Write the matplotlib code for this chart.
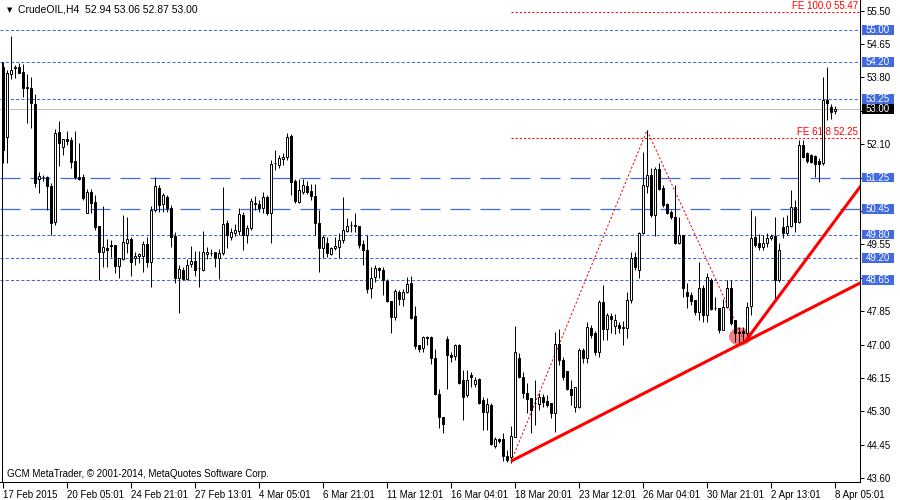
import matplotlib
matplotlib.use("Agg")
import matplotlib.pyplot as plt
from matplotlib.patches import Rectangle, Ellipse
from matplotlib.transforms import blended_transform_factory
import numpy as np

plt.rcParams['font.family'] = ['Liberation Sans', 'DejaVu Sans']

# ---------------- data (CrudeOIL, H4) ----------------
opens = [
    54.06, 52.28, 53.88, 54.06, 54.06, 53.93, 53.55, 53.53, 53.12, 51.21,
    51.26, 51.26, 51.03, 50.12, 52.41, 52.03, 52.23, 52.21, 51.67, 51.26,
    51.26, 50.35, 50.88, 50.63, 50.02, 49.36, 49.46, 49.53, 49.53, 49.00,
    49.18, 49.58, 49.69, 49.20, 49.25, 49.25, 49.56, 49.10, 50.42, 50.98,
    50.58, 50.75, 50.47, 49.76, 48.69, 48.90, 48.67, 49.05, 49.13, 48.95,
    48.90, 49.30, 49.33, 49.36, 49.20, 49.33, 50.09, 49.74, 49.84, 49.89,
    50.30, 49.79, 49.97, 50.58, 50.58, 50.47, 50.75, 50.35, 51.62, 51.57,
    51.72, 51.77, 52.31, 51.16, 50.63, 50.88, 51.03, 50.91, 50.78, 50.09,
    49.46, 49.58, 49.30, 49.46, 49.48, 49.66, 49.89, 50.04, 50.02, 50.02,
    49.56, 49.41, 48.44, 48.72, 48.95, 48.90, 48.62, 48.11, 47.70, 48.34,
    48.16, 48.34, 48.57, 47.73, 46.99, 46.91, 47.19, 47.19, 46.66, 45.74,
    45.16, 47.14, 46.73, 46.71, 46.99, 46.10, 45.72, 46.23, 46.00, 46.12,
    45.59, 45.28, 45.46, 44.42, 44.60, 44.60, 44.16, 44.14, 44.65, 46.66,
    46.17, 45.77, 45.64, 45.51, 45.49, 45.67, 45.56, 45.51, 45.26, 47.01,
    46.61, 46.33, 45.87, 45.41, 45.41, 46.86, 46.66, 47.42, 47.29, 46.81,
    48.08, 47.40, 47.73, 47.47, 47.50, 47.45, 47.42, 48.13, 49.23, 48.90,
    49.84, 51.03, 51.31, 50.30, 51.47, 50.98, 50.58, 50.37, 50.25, 49.58,
    49.79, 48.34, 48.26, 48.13, 47.83, 48.44, 47.75, 48.64, 47.93, 47.93,
    47.37, 47.95, 48.44, 47.63, 47.32, 47.34, 47.29, 47.98, 49.74, 49.58,
    49.48, 49.58, 49.71, 49.76, 48.64, 49.99, 49.84, 50.02, 50.50, 50.12,
    52.08, 51.87, 51.82, 51.80, 51.67, 51.62, 53.22, 53.04, 52.94,
]
closes = [
    51.95, 53.91, 53.99, 54.03, 53.91, 53.53, 53.54, 53.15, 51.11, 51.29,
    51.27, 51.03, 50.09, 52.38, 52.13, 52.23, 52.18, 51.65, 51.26, 51.21,
    50.73, 50.88, 50.60, 49.99, 49.36, 49.48, 49.41, 49.51, 49.00, 49.20,
    49.61, 49.69, 49.10, 49.25, 49.30, 49.56, 49.10, 50.42, 51.03, 50.55,
    50.81, 50.47, 49.74, 48.69, 48.92, 48.67, 49.02, 49.13, 48.90, 48.94,
    49.36, 49.36, 49.34, 49.20, 49.33, 50.07, 49.79, 49.86, 49.92, 50.32,
    49.79, 49.97, 50.65, 50.59, 50.47, 50.75, 50.35, 51.59, 51.63, 51.75,
    51.77, 52.28, 51.14, 50.65, 50.93, 51.06, 50.88, 50.78, 50.09, 49.46,
    49.74, 49.33, 49.46, 49.51, 49.66, 49.92, 50.02, 50.05, 50.04, 49.53,
    49.41, 48.41, 48.69, 48.95, 48.90, 48.64, 48.11, 47.70, 48.36, 48.16,
    48.34, 48.54, 47.68, 46.96, 46.89, 47.19, 47.17, 46.66, 45.74, 45.16,
    44.98, 46.73, 46.68, 46.99, 46.02, 45.67, 46.10, 46.17, 46.10, 45.51,
    45.28, 45.49, 44.47, 44.60, 44.55, 44.16, 44.06, 44.67, 46.81, 46.17,
    45.77, 45.61, 45.33, 45.52, 45.67, 45.54, 45.46, 45.26, 47.01, 46.61,
    46.17, 45.87, 45.72, 45.92, 46.86, 46.66, 47.45, 47.24, 46.81, 48.08,
    47.40, 47.75, 47.65, 47.62, 47.42, 47.43, 48.13, 49.20, 48.97, 49.84,
    51.06, 51.31, 50.30, 51.47, 50.96, 50.55, 50.35, 50.25, 49.58, 49.79,
    48.44, 48.23, 48.11, 47.83, 48.44, 47.75, 48.72, 47.90, 47.92, 47.37,
    47.95, 48.44, 47.55, 47.29, 47.29, 47.29, 47.95, 49.71, 49.53, 49.48,
    49.58, 49.71, 49.76, 48.64, 49.41, 49.84, 50.02, 50.50, 50.12, 52.08,
    51.77, 51.67, 51.65, 51.59, 51.59, 53.22, 53.15, 52.92, 53.00,
]
highs = [
    54.19, 53.99, 54.85, 54.11, 54.16, 54.14, 53.88, 53.81, 53.38, 51.39,
    51.31, 51.28, 51.11, 52.48, 52.69, 52.23, 52.43, 52.28, 52.43, 52.13,
    51.34, 50.96, 50.96, 50.81, 50.02, 50.53, 49.69, 49.66, 49.53, 49.20,
    50.30, 50.24, 49.74, 49.35, 49.33, 49.63, 49.74, 50.53, 51.26, 51.06,
    50.86, 50.81, 50.55, 49.86, 49.02, 48.97, 49.18, 49.51, 49.38, 49.38,
    49.89, 49.48, 49.43, 49.36, 49.43, 51.01, 50.17, 49.97, 50.07, 50.47,
    50.37, 50.04, 50.73, 50.78, 50.68, 50.88, 50.81, 51.70, 51.95, 51.82,
    51.87, 52.38, 52.36, 51.21, 51.21, 51.21, 51.16, 51.09, 51.09, 50.42,
    49.79, 49.74, 49.48, 49.74, 49.84, 50.75, 50.22, 50.14, 50.35, 50.02,
    49.66, 49.79, 48.97, 49.02, 48.97, 48.97, 48.66, 48.11, 48.41, 48.39,
    48.41, 48.72, 48.74, 47.98, 46.99, 47.22, 47.22, 47.22, 46.89, 45.87,
    45.16, 47.22, 46.81, 47.01, 47.01, 46.35, 46.35, 46.30, 46.17, 46.15,
    45.66, 45.64, 45.51, 44.65, 44.62, 44.75, 44.32, 44.93, 47.47, 46.79,
    46.30, 46.02, 45.64, 46.10, 45.77, 45.74, 45.72, 45.51, 47.32, 47.40,
    46.68, 46.33, 46.10, 45.92, 46.91, 46.91, 47.57, 47.50, 47.34, 48.13,
    48.51, 47.80, 47.80, 47.78, 47.57, 47.60, 48.34, 49.36, 49.36, 49.86,
    51.90, 52.46, 51.49, 51.52, 51.62, 51.06, 50.60, 50.42, 51.06, 50.25,
    49.79, 48.57, 48.34, 48.13, 49.10, 48.51, 48.82, 48.69, 48.21, 47.93,
    48.16, 48.64, 48.64, 47.63, 47.45, 47.45, 48.08, 50.42, 50.27, 49.81,
    49.79, 49.84, 49.81, 50.25, 49.58, 50.25, 50.30, 50.93, 50.68, 52.21,
    52.21, 51.90, 51.85, 51.82, 51.75, 53.81, 54.06, 53.12, 53.06,
]
lows = [
    51.62, 51.62, 53.76, 53.78, 53.91, 53.30, 52.64, 52.51, 51.01, 50.86,
    51.16, 50.42, 49.79, 50.04, 51.54, 51.82, 52.08, 51.49, 51.21, 51.19,
    50.68, 50.35, 50.35, 49.92, 48.64, 48.97, 48.97, 49.23, 48.82, 48.69,
    49.15, 49.33, 48.74, 49.02, 49.07, 48.85, 48.97, 48.46, 50.37, 50.37,
    50.37, 50.37, 49.48, 48.57, 47.80, 48.64, 48.64, 48.97, 48.74, 48.46,
    48.87, 49.18, 49.25, 48.97, 48.67, 49.28, 49.46, 49.66, 49.76, 49.79,
    49.41, 49.58, 49.92, 50.42, 50.37, 50.35, 50.30, 49.58, 51.44, 51.49,
    51.57, 51.70, 50.81, 50.60, 50.60, 50.83, 50.83, 50.68, 49.79, 48.85,
    49.20, 49.23, 49.28, 49.41, 49.20, 49.58, 49.86, 49.86, 49.86, 49.46,
    49.02, 48.31, 48.18, 48.59, 48.69, 48.26, 48.08, 47.29, 47.63, 48.00,
    47.98, 48.31, 47.65, 46.89, 46.81, 46.81, 46.99, 46.50, 45.72, 44.88,
    44.75, 45.87, 46.56, 46.61, 45.99, 45.08, 45.67, 45.92, 45.92, 45.48,
    44.83, 44.83, 44.44, 44.37, 44.50, 44.04, 44.01, 43.99, 44.65, 46.15,
    45.64, 45.26, 44.75, 44.95, 45.33, 45.41, 45.41, 45.13, 44.77, 46.48,
    46.10, 45.84, 45.46, 45.28, 45.39, 46.53, 46.53, 47.17, 46.73, 46.68,
    47.12, 47.12, 47.29, 47.27, 47.29, 46.99, 47.17, 48.06, 48.90, 48.69,
    49.81, 50.86, 50.25, 49.76, 50.93, 50.50, 50.32, 50.19, 49.56, 49.56,
    48.21, 47.93, 48.01, 47.75, 47.63, 47.57, 47.57, 47.88, 47.88, 47.29,
    47.37, 47.93, 47.50, 47.06, 47.04, 47.06, 47.12, 47.75, 49.48, 49.41,
    49.41, 49.48, 49.66, 48.13, 48.59, 49.71, 49.79, 49.99, 49.86, 50.09,
    51.75, 51.62, 51.62, 51.26, 51.14, 51.57, 52.71, 52.74, 52.87,
]

time_labels = ['17 Feb 2015', '20 Feb 05:01', '24 Feb 21:01', '27 Feb 13:01',
               '4 Mar 05:01', '6 Mar 21:01', '11 Mar 12:01', '16 Mar 04:01',
               '18 Mar 20:01', '23 Mar 12:01', '26 Mar 04:01', '30 Mar 21:01',
               '2 Apr 13:01', '8 Apr 05:01']
bars_per_label = 16

price_ticks = [43.60, 44.45, 45.30, 46.15, 47.00, 47.85, 48.70, 49.55,
               50.40, 51.25, 52.10, 52.95, 53.80, 54.65, 55.50]

levels_dotted = [55.00, 54.20, 53.25, 49.80, 49.20, 48.65]
levels_dashed = [51.25, 50.45]
bid_price = 53.00

fe_bars = [127, 161, 185.5]
fe_prices = [44.02, 52.45, 47.04]
fe_ratios = ['100.0', '61.8']
fe_levels = [55.47, 52.25]

trend1_bars, trend1_prices = [127, 185.5], [44.03, 47.07]
trend2_bars, trend2_prices = [185.5, 214.25], [47.07, 51.01]
highlight_bar, highlight_price = 184.3, 47.20

title = "CrudeOIL,H4  52.94 53.06 52.87 53.00"
copyright_text = "GCM MetaTrader, \u00a9 2001-2014, MetaQuotes Software Corp."

# ---------------- figure ----------------
BLUE = '#4169E1'
fig = plt.figure(figsize=(9, 5), dpi=100)
fig.patch.set_facecolor('white')
ax = fig.add_axes([0, 18 / 500, 860 / 900, 482 / 500])
ax.set_facecolor('white')
ax.set_xlim(-0.75, 214.25)
ax.set_ylim(43.50, 55.77)
x_right = ax.get_xlim()[1]

# horizontal levels
ax.axhline(bid_price, color='#C0C0C0', lw=0.75, zorder=1.5)
for p in levels_dotted:
    ax.axhline(p, color=BLUE, lw=0.75, ls=(0, (3, 2)), zorder=2)
for p in levels_dashed:
    ax.axhline(p, color=BLUE, lw=0.9, ls=(0, (16, 8)), zorder=2)

# highlight blob
ax.add_patch(Ellipse((highlight_bar, highlight_price), 5.6, 0.46,
                     facecolor='#F08080', edgecolor='none', zorder=3))

# candles
n = len(opens)
idx = np.arange(n)
ax.vlines(idx, lows, highs, color='black', lw=0.7, zorder=4)
bw = 0.42
for i in range(n):
    o, c = opens[i], closes[i]
    bottom = min(o, c)
    h = max(abs(c - o), 0.01)
    fc = 'white' if c > o else 'black'
    ax.add_patch(Rectangle((i - bw / 2, bottom), bw, h, facecolor=fc,
                           edgecolor='black', lw=0.7, zorder=4.5))

# Fibonacci expansion
ax.plot(fe_bars, fe_prices, color='red', lw=0.75, ls=(0, (2, 2)), zorder=3.5)
trans = blended_transform_factory(ax.transAxes, ax.transData)
for r, v in zip(fe_ratios, fe_levels):
    ax.hlines(v, fe_bars[0], x_right, color='red', lw=0.75, ls=(0, (2, 2)), zorder=3.5)
    ax.text(1 - 2 / 860, v + 0.03, f"FE {r} {v:.2f}", transform=trans,
            ha='right', va='bottom', color='red', fontsize=7, zorder=6)

# trendlines (rays)
for bx, py in [(trend1_bars, trend1_prices), (trend2_bars, trend2_prices)]:
    slope = (py[1] - py[0]) / (bx[1] - bx[0])
    xe = x_right + 5
    ax.plot([bx[0], xe], [py[0], py[0] + slope * (xe - bx[0])],
            color='red', lw=2.2, solid_capstyle='butt', zorder=5)

# axes styling
ax.spines['top'].set_visible(False)
ax.spines['left'].set_bounds(ax.get_ylim()[0], highs[0])
ax.spines['left'].set_position(('data', -0.3))
for s in ['right', 'bottom', 'left']:
    ax.spines[s].set_linewidth(0.75)
    ax.spines[s].set_color('black')

box_levels = levels_dotted + levels_dashed + [bid_price]
ax.yaxis.tick_right()
ax.set_yticks(price_ticks)
ax.set_yticklabels(['' if min(abs(p - b) for b in box_levels) < 0.12 else f"{p:.2f}"
                    for p in price_ticks])
ax.tick_params(axis='y', direction='out', length=3, width=0.75, pad=2,
               labelsize=7, colors='black')

ax.set_xticks(list(range(0, n, bars_per_label)))
ax.set_xticklabels(time_labels)
ax.tick_params(axis='x', direction='out', length=4, width=0.75, pad=1.5,
               labelsize=7, colors='black')
for tl in ax.get_xticklabels():
    tl.set_ha('left')

# price boxes on the right
for p, col in [(p, BLUE) for p in levels_dotted + levels_dashed] + [(bid_price, 'black')]:
    ax.add_patch(Rectangle((1 + 2 / 860, p - 0.125), 32 / 860, 0.25,
                           transform=trans, facecolor=col, edgecolor='none',
                           clip_on=False, zorder=6))
    ax.text(1 + 6 / 860, p, f"{p:.2f}", transform=trans, ha='left',
            va='center', color='white', fontsize=7, zorder=7)

# texts
fig.text(7 / 900, 1 - 10 / 500, '\u25bc', fontsize=5, va='center',
         family=['DejaVu Sans'])
fig.text(18 / 900, 1 - 10 / 500, title, fontsize=7.5, va='center')
fig.text(7 / 900, 1 - 474 / 500, copyright_text, fontsize=7, va='center')

fig.savefig('out.png', dpi=100, facecolor='white')
